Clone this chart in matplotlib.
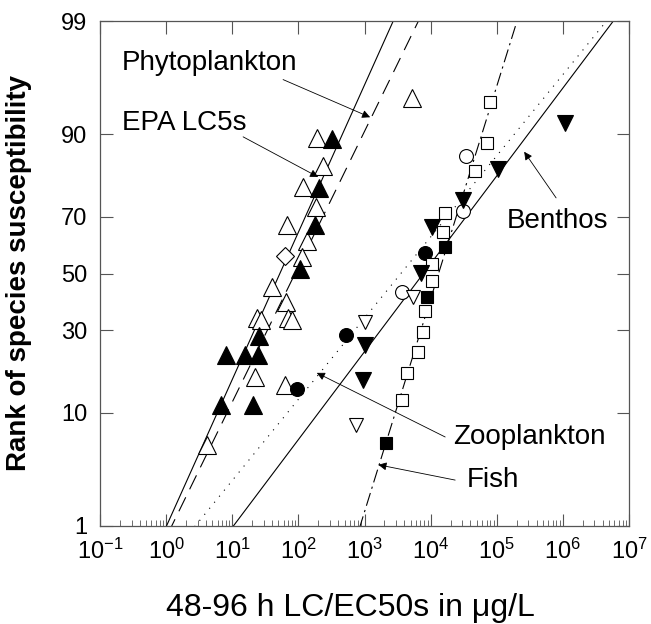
import numpy as np
import matplotlib.pyplot as plt
from matplotlib.ticker import LogLocator, NullFormatter
from statistics import NormalDist

plt.rcParams['font.family'] = ['Liberation Sans', 'DejaVu Sans']

# percent rank -> normal score (probability paper)
probit = np.vectorize(lambda p: NormalDist().inv_cdf(p / 100.0))

# fitted distributions: log10 median and log10 sd
fit_names = ['EPA LC5s', 'Phytoplankton', 'Zooplankton', 'Benthos', 'Fish']
fit_mu = [1.72, 1.95, 3.55, 3.89, 4.12]
fit_sigma = [0.737, 0.802, 1.337, 1.235, 0.510]
fit_styles = ['-', (0, (14, 8)), (0, (1, 6)), '-', (0, (12, 4, 2, 4))]

# data points: LC/EC50 (ug/L) and rank (%)
open_tri_x = [190, 239, 119, 182, 66.8, 135, 112, 40.2, 64, 70.6, 80.4, 23.3, 27.3, 22.1, 63, 4.16, 5200]
open_tri_y = [89.4, 83.8, 78.6, 72.9, 67.4, 61.8, 56.2, 45.2, 39.7, 34.0, 33.4, 34.0, 33.4, 17.1, 15.3, 5.7, 94.7]
open_dia_x = [63.8]
open_dia_y = [56.4]
fill_tri_x = [324, 207, 179, 104, 25.2, 8.05, 15.6, 24.2, 6.7, 20.8]
fill_tri_y = [89.2, 78.5, 67.3, 51.6, 28.2, 22.6, 22.6, 22.6, 11.3, 11.3]
open_circ_x = [34400, 31300, 3660]
open_circ_y = [86.1, 71.8, 43.2]
fill_circ_x = [95.5, 521, 8260]
fill_circ_y = [14.4, 28.5, 57.4]
open_sq_x = [79400, 72300, 47100, 16700, 15600, 10500, 10400, 8260, 7780, 6540, 4460, 3700]
open_sq_y = [94.3, 88.5, 82.7, 71.1, 65.0, 53.5, 47.4, 36.5, 29.6, 23.5, 17.9, 12.2]
fill_sq_x = [16600, 8730, 2120]
fill_sq_y = [59.6, 41.5, 5.9]
fill_dn_x = [1.08e6, 1.03e5, 31300, 10400, 7130, 1020, 962]
fill_dn_y = [91.7, 83.3, 75.2, 66.7, 50.1, 25.5, 16.3]
open_dn_x = [5480, 1020, 746]
open_dn_y = [41.5, 32.9, 8.1]

ytick_pct = [1, 10, 30, 50, 70, 90, 99]

fig = plt.figure(figsize=(6.51, 6.24), dpi=100)
ax = fig.add_axes([100/651, 1-526/624, 529/651, 505/624])

zz = np.array([-3.0, 3.0])
for mu, sd, ls in zip(fit_mu, fit_sigma, fit_styles):
    ax.plot(10 ** (mu + sd * zz), zz, color='black', lw=0.8, linestyle=ls)

kw = dict(linestyle='none', markeredgewidth=0.8, markeredgecolor='black')
ax.plot(open_tri_x, probit(open_tri_y), '^', ms=13, mfc='white', **kw)
ax.plot(open_dia_x, probit(open_dia_y), 'D', ms=9, mfc='white', **kw)
ax.plot(fill_tri_x, probit(fill_tri_y), '^', ms=13, mfc='black', **kw)
ax.plot(open_circ_x, probit(open_circ_y), 'o', ms=10, mfc='white', **kw)
ax.plot(fill_circ_x, probit(fill_circ_y), 'o', ms=10, mfc='black', **kw)
ax.plot(open_sq_x, probit(open_sq_y), 's', ms=9, mfc='white', **kw)
ax.plot(fill_sq_x, probit(fill_sq_y), 's', ms=9, mfc='black', **kw)
ax.plot(fill_dn_x, probit(fill_dn_y), 'v', ms=11, mfc='black', **kw)
ax.plot(open_dn_x, probit(open_dn_y), 'v', ms=10, mfc='white', **kw)

ax.set_xscale('log')
ax.set_xlim(0.1, 1e7)
ax.xaxis.set_major_locator(LogLocator(base=10, numticks=20))
ax.xaxis.set_minor_locator(LogLocator(base=10, subs=np.arange(2, 10), numticks=20))
ax.xaxis.set_minor_formatter(NullFormatter())
ax.set_ylim(probit(1), probit(99))
ax.set_yticks(probit(ytick_pct))
ax.set_yticklabels([str(p) for p in ytick_pct])

for s in ax.spines.values():
    s.set_color('#555555')
    s.set_linewidth(0.9)
ax.tick_params(which='major', direction='in', length=9, width=0.8, color='#555555',
               top=True, right=True, labelsize=17, pad=9)
ax.tick_params(which='minor', direction='in', length=4.5, width=0.6, color='#555555',
               top=False, right=False)

# labels with arrows
txt = dict(fontsize=20, va='center', ha='left')
ax.text(0.215, probit(97.4), 'Phytoplankton', **txt)
ax.text(0.215, probit(91.7), 'EPA LC5s', **txt)
ax.text(1.44e5, probit(68.6), 'Benthos', **txt)
ax.text(2.19e4, probit(6.6), 'Zooplankton', **txt)
ax.text(3.57e4, probit(2.85), 'Fish', **txt)

arr = dict(arrowstyle='-|>', color='black', lw=0.6, mutation_scale=12, shrinkA=0, shrinkB=0)
ax.annotate('', xy=(1216, probit(92.5)), xytext=(58.7, probit(96.3)), arrowprops=arr)
ax.annotate('', xy=(199, probit(81.3)), xytext=(14.6, probit(89.6)), arrowprops=arr)
ax.annotate('', xy=(2.6e5, probit(86.9)), xytext=(7.9e5, probit(75.7)), arrowprops=arr)
ax.annotate('', xy=(190, probit(18.0)), xytext=(16600, probit(6.6)), arrowprops=arr)
ax.annotate('', xy=(1622, probit(3.9)), xytext=(23500, probit(2.85)), arrowprops=arr)

fig.text(19.5/651, 1-273/624, 'Rank of species susceptibility', rotation=90,
         fontsize=20, fontweight='bold', ha='center', va='center')
fig.text(350/651, 1-608/624, '48-96 h LC/EC50s in \u03bcg/L', fontsize=23,
         ha='center', va='center')

fig.savefig('out.png', dpi=100)
